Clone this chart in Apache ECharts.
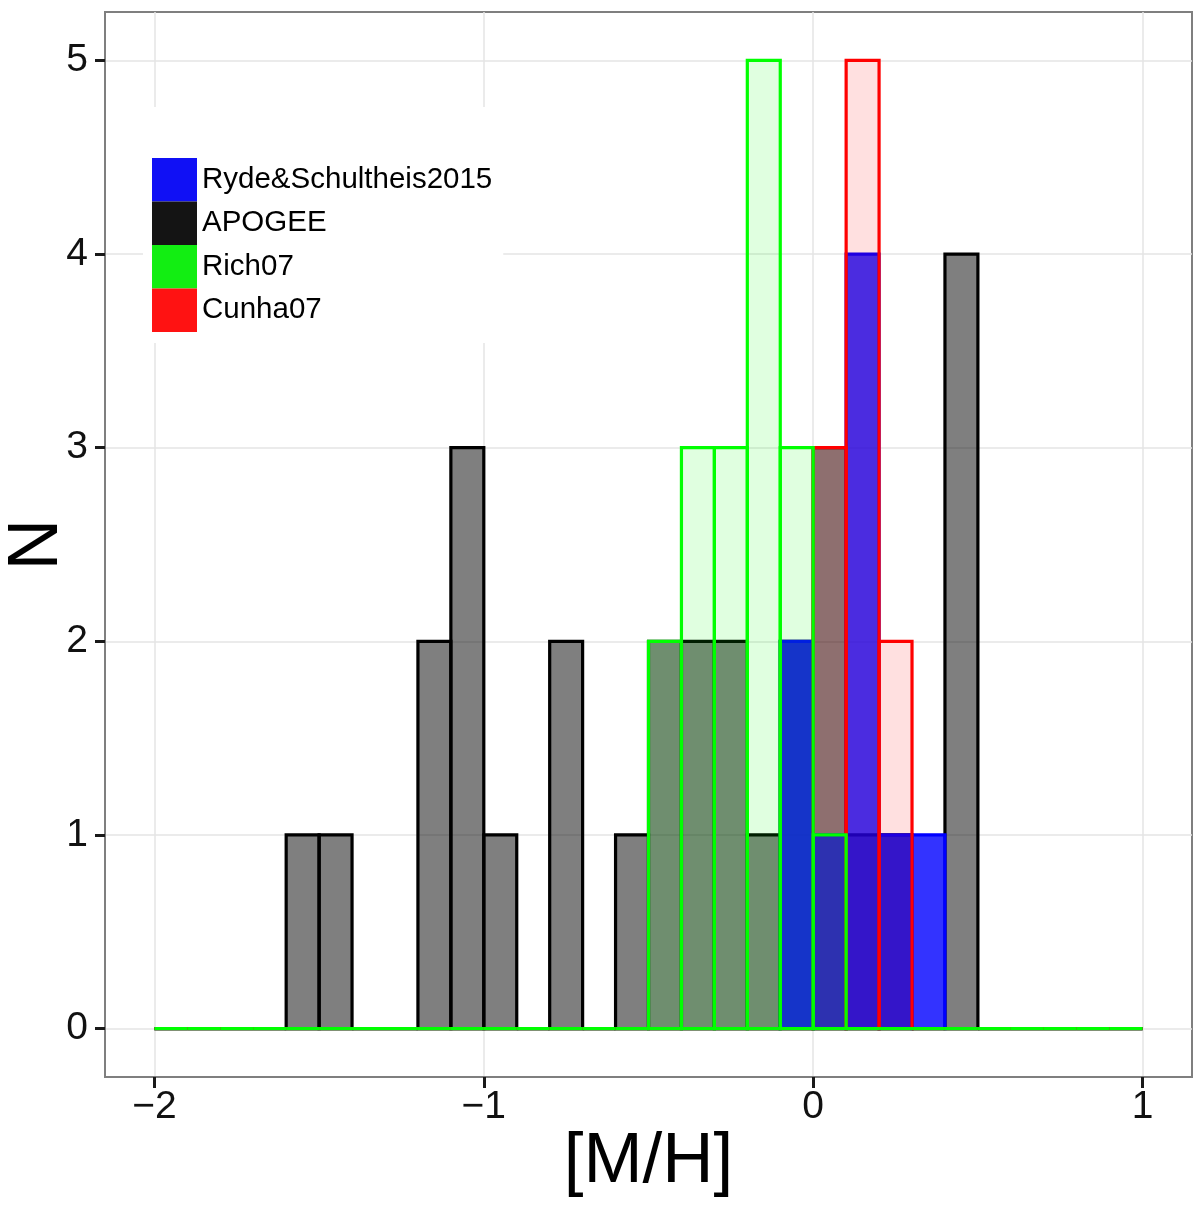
<!DOCTYPE html>
<html>
<head>
<meta charset="utf-8">
<title>[M/H] histogram</title>
<script src="https://cdn.jsdelivr.net/npm/echarts@6/dist/echarts.min.js"></script>
<style>
    html, body { margin: 0; padding: 0; background: #fff; }
    #histChart { width: 1200px; height: 1206px; }
</style>
</head>
<body>
<div id="histChart"></div>
<script>
// bin edges of the [M/H] histogram (bin width 0.1)
var binEdges = [-2.0, -1.9, -1.8, -1.7, -1.6, -1.5, -1.4, -1.3, -1.2, -1.1,
    -1.0, -0.9, -0.8, -0.7, -0.6, -0.5, -0.4, -0.3, -0.2, -0.1,
    0.0, 0.1, 0.2, 0.3, 0.4, 0.5, 0.6, 0.7, 0.8, 0.9, 1.0];

// counts per bin, one list per sample
var apogeeCounts = [0, 0, 0, 0, 1, 1, 0, 0, 2, 3, 1, 0, 2, 0, 1, 2, 2, 2, 1, 2, 3, 1, 1, 0, 4, 0, 0, 0, 0, 0];
var rydeCounts = [0, 0, 0, 0, 0, 0, 0, 0, 0, 0, 0, 0, 0, 0, 0, 0, 0, 0, 0, 2, 1, 4, 1, 1, 0, 0, 0, 0, 0, 0];
var cunhaCounts = [0, 0, 0, 0, 0, 0, 0, 0, 0, 0, 0, 0, 0, 0, 0, 0, 0, 0, 0, 0, 3, 5, 2, 0, 0, 0, 0, 0, 0, 0];
var richCounts = [0, 0, 0, 0, 0, 0, 0, 0, 0, 0, 0, 0, 0, 0, 0, 2, 3, 3, 5, 3, 1, 0, 0, 0, 0, 0, 0, 0, 0, 0];

var legendNames = ['Ryde&Schultheis2015', 'APOGEE', 'Rich07', 'Cunha07'];
var xTicks = [-2, -1, 0, 1];
var yTicks = [0, 1, 2, 3, 4, 5];

var FONT = '"Liberation Sans", Arial, Helvetica, sans-serif';

/**
 * 把计数列表转成 [起点, 终点, 计数] 的数据
 */
function toBins(counts) {
    var out = [];
    for (var i = 0; i < counts.length; i++) {
        out.push([binEdges[i], binEdges[i + 1], counts[i]]);
    }
    return out;
}

/**
 * 生成绘制直方柱的 renderItem
 */
function binRenderer(fill, stroke) {
    return function (params, api) {
        var p0 = api.coord([api.value(0), 0]);
        var p1 = api.coord([api.value(1), api.value(2)]);
        return {
            type: 'rect',
            shape: {x: p0[0], y: p1[1], width: p1[0] - p0[0], height: p0[1] - p1[1]},
            style: {fill: fill, stroke: stroke, lineWidth: 3.2}
        };
    };
}

function histSeries(name, counts, fill, stroke) {
    return {
        name: name,
        type: 'custom',
        renderItem: binRenderer(fill, stroke),
        data: toBins(counts),
        encode: {x: [0, 1], y: 2},
        itemStyle: {color: stroke},
        silent: true,
        animation: false
    };
}

function minusFmt(v) {
    return v < 0 ? '\u2212' + Math.abs(v) : String(v);
}

var myChart = echarts.init(document.getElementById('histChart'), null, {renderer: 'canvas'});
var option = {
    backgroundColor: '#fff',
    animation: false,
    grid: {
        left: 105, top: 12, right: 8, bottom: 129,
        show: true, borderColor: '#7f7f7f', borderWidth: 2,
        outerBoundsMode: 'none'
    },
    legend: {
        data: [
            {name: legendNames[0], itemStyle: {color: '#1010f5'}},
            {name: legendNames[1], itemStyle: {color: '#141414'}},
            {name: legendNames[2], itemStyle: {color: '#12ee12'}},
            {name: legendNames[3], itemStyle: {color: '#ff1212'}}
        ],
        orient: 'vertical',
        left: 143,
        top: 107,
        padding: [51, 11, 11, 9],
        backgroundColor: '#fff',
        icon: 'rect',
        itemWidth: 45,
        itemHeight: 43.5,
        itemGap: 0,
        selectedMode: false,
        textStyle: {fontSize: 29.5, color: '#000', fontFamily: FONT}
    },
    xAxis: {
        type: 'value',
        min: -2.15,
        max: 1.15,
        name: '[M/H]',
        nameLocation: 'middle',
        nameGap: 50,
        nameMoveOverlap: false,
        nameTextStyle: {fontSize: 71, color: '#000', fontFamily: FONT},
        axisLine: {show: true, onZero: false, lineStyle: {color: '#7f7f7f', width: 2}},
        axisTick: {show: true, length: 11, customValues: xTicks, lineStyle: {color: '#1a1a1a', width: 3}},
        axisLabel: {customValues: xTicks, margin: 11, fontSize: 39, color: '#111', fontFamily: FONT, formatter: minusFmt},
        splitLine: {show: true, lineStyle: {color: '#e5e5e5', width: 1.5}}
    },
    yAxis: {
        type: 'value',
        min: -0.25,
        max: 5.25,
        name: 'N',
        nameLocation: 'middle',
        nameGap: 32,
        nameMoveOverlap: false,
        nameTextStyle: {fontSize: 71, color: '#000', fontFamily: FONT},
        axisLine: {show: true, onZero: false, lineStyle: {color: '#7f7f7f', width: 2}},
        axisTick: {show: true, length: 10, customValues: yTicks, lineStyle: {color: '#1a1a1a', width: 3}},
        axisLabel: {customValues: yTicks, margin: 17, fontSize: 39, color: '#111', fontFamily: FONT},
        splitLine: {show: true, lineStyle: {color: '#e5e5e5', width: 1.5}}
    },
    series: [
        histSeries(legendNames[1], apogeeCounts, 'rgba(0,0,0,0.5)', '#000000'),
        histSeries(legendNames[0], rydeCounts, 'rgba(0,0,255,0.8)', '#0000ff'),
        histSeries(legendNames[3], cunhaCounts, 'rgba(255,0,0,0.12)', '#ff0000'),
        histSeries(legendNames[2], richCounts, 'rgba(0,255,0,0.12)', '#00ff00')
    ]
};
myChart.setOption(option, true);
</script>
</body>
</html>
